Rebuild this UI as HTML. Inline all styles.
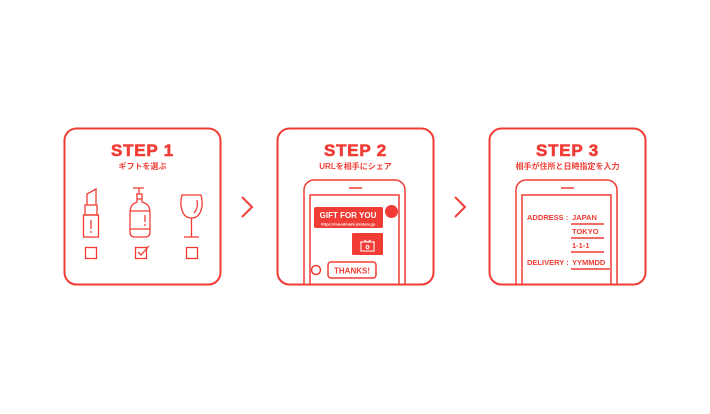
<!DOCTYPE html>
<html><head><meta charset="utf-8"><style>
html,body{margin:0;padding:0;background:#fff;}
svg{display:block}
text{font-family:"Liberation Sans","Noto Sans CJK JP",sans-serif;font-weight:bold;}
</style></head><body>
<svg width="710" height="414" viewBox="0 0 710 414" xmlns="http://www.w3.org/2000/svg">
<defs><clipPath id="c2"><rect x="277" y="128" width="157" height="157" rx="12"/></clipPath>
<clipPath id="c3"><rect x="489" y="128" width="157" height="157" rx="12"/></clipPath></defs>
<g fill="none" stroke="#f03c34" stroke-width="2">
<rect x="64.5" y="128.5" width="156" height="156" rx="12"/>
<rect x="277.5" y="128.5" width="156" height="156" rx="12"/>
<rect x="489.5" y="128.5" width="156" height="156" rx="12"/>
<polyline points="242,197 252,207 242,217"/>
<polyline points="455,197 465,207 455,217"/>
</g>
<g fill="#f03c34" text-anchor="middle">
<g stroke="#f03c34" stroke-width="0.6" letter-spacing="0.8">
<text x="142.5" y="156" font-size="17">STEP 1</text>
<text x="355.5" y="156" font-size="17">STEP 2</text>
<text x="567.5" y="156" font-size="17">STEP 3</text>
</g>
<text x="142.5" y="169" font-size="8">ギフトを選ぶ</text>
<text x="355.5" y="169" font-size="8">URLを相手にシェア</text>
<text x="567.5" y="169" font-size="8">相手が住所と日時指定を入力</text>
</g>
<!-- step1 icons -->
<g fill="none" stroke="#f03c34" stroke-width="1.3">
<path d="M87,205 V194 L96,189 V205"/>
<rect x="85" y="205" width="12" height="10"/>
<rect x="83.5" y="215" width="15" height="22"/>
<line x1="91" y1="220" x2="91" y2="229"/><line x1="91" y1="231" x2="91" y2="233"/>
<path d="M133,188 H144 M139,188 V194 M136,194 H142 V199 M137,194 V199"/>
<path d="M137,199 H142 V202 C149,204 150,208 150,214 V232 Q150,237 145,237 H135 Q130,237 130,232 V214 C130,208 131,204 137,202 Z"/>
<line x1="130" y1="211" x2="150" y2="211"/><line x1="130" y1="229" x2="150" y2="229"/>
<line x1="145" y1="215" x2="145" y2="222"/><line x1="145" y1="224" x2="145" y2="226"/>
<path d="M182,195 H201 C204,206 201,218 191.5,218 C182,218 179,206 182,195 Z"/>
<path d="M197,200 C198,205 197,210 194,213"/>
<line x1="191.5" y1="218" x2="191.5" y2="237"/><line x1="184" y1="237" x2="199" y2="237"/>
<rect x="85.5" y="247.5" width="11" height="11"/>
<rect x="135.5" y="247.5" width="11" height="11"/>
<rect x="186.5" y="247.5" width="11" height="11"/>
<polyline points="138,252 141,255 149,246"/>
</g>
<!-- step2 phone -->
<g clip-path="url(#c2)" fill="none" stroke="#f03c34" stroke-width="1.5">
<rect x="304" y="180" width="101" height="130" rx="10"/>
<rect x="310" y="195" width="89" height="120"/>
<line x1="349" y1="188" x2="362" y2="188"/>
<circle cx="316" cy="270" r="4.5"/>
<rect x="328" y="262" width="48" height="16" rx="3"/>
</g>
<g fill="#f03c34">
<rect x="314" y="207" width="69" height="21" rx="2"/>
<circle cx="391.5" cy="211.5" r="6.5"/>
<rect x="352" y="233" width="31" height="22" rx="1"/>
</g>
<g fill="none" stroke="#fff" stroke-width="1">
<rect x="361" y="242" width="13" height="9"/><line x1="360" y1="242" x2="375" y2="242"/>
<path d="M364,240 L367.5,242 L371,240"/><circle cx="367.5" cy="247" r="1.5"/>
</g>
<text x="348" y="218" font-size="8" fill="#fff" text-anchor="middle">GIFT FOR YOU</text>
<text x="348" y="225.5" font-size="4" fill="#fff" text-anchor="middle">https://moodmark.mistore.jp</text>
<text x="352" y="273.5" font-size="8" fill="#f03c34" text-anchor="middle">THANKS!</text>
<!-- step3 phone -->
<g clip-path="url(#c3)" fill="none" stroke="#f03c34" stroke-width="1.5">
<rect x="516" y="180" width="101" height="130" rx="10"/>
<rect x="522" y="195" width="89" height="120"/>
<line x1="561" y1="188" x2="574" y2="188"/>
<line x1="571" y1="224" x2="604" y2="224"/>
<line x1="571" y1="238" x2="604" y2="238"/>
<line x1="571" y1="252" x2="604" y2="252"/>
<line x1="571" y1="269" x2="610" y2="269"/>
</g>
<g fill="#f03c34" font-size="7.5">
<text x="527" y="220">ADDRESS :</text>
<text x="572" y="220">JAPAN</text>
<text x="572" y="234">TOKYO</text>
<text x="572" y="248">1-1-1</text>
<text x="527" y="265">DELIVERY :</text>
<text x="572" y="265">YYMMDD</text>
</g>
</svg>
</body></html>
